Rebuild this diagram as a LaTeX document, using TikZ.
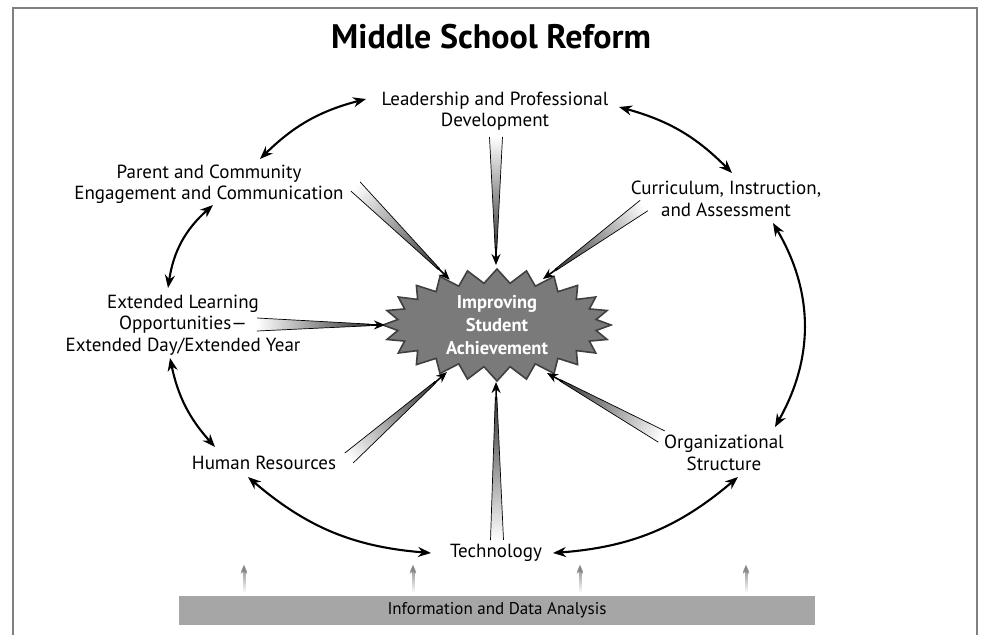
\documentclass[tikz,border=0pt]{standalone}
\usepackage{fontspec}
\setmainfont{PT Sans}
\usetikzlibrary{shapes, arrows.meta, positioning, calc, fadings}

% wedge arrow: wide end #1, tip #2
\newcommand\taper[2]{%
  \path let \p1=(#1), \p2=(#2) in
    \pgfextra{\pgfmathsetmacro\tang{atan2(\y2-\y1,\x2-\x1)}%
      \pgfmathsetmacro\tlen{veclen(\x2-\x1,\y2-\y1)}%
      \xdef\taperang{\tang}\xdef\taperlen{\tlen}};
  \begin{scope}[transform canvas={shift={(#1)}, rotate=\taperang}]
    \shade[left color=white, right color=black!80] (0,6.5) -- (\taperlen-15,0.8) -- (\taperlen-15,-0.8) -- (0,-6.5) -- cycle;
    \draw[line width=0.7pt] (0,6.5) -- (\taperlen-15,0.8) (0,-6.5) -- (\taperlen-15,-0.8);
    \draw[line width=1.6pt, -{Stealth[length=11pt,width=9pt]}] (\taperlen-18,0) -- (\taperlen,0);
  \end{scope}}

\begin{document}
\begin{tikzpicture}[x=1pt, y=1pt,
        lbl/.style={align=center, inner sep=0pt, font=\fontsize{19}{21.5}\selectfont},
        burst/.style={starburst, starburst points=24, starburst point height=14pt, random starburst=0, draw=black!75, fill=black!52, line width=1.6pt, minimum width=228pt, minimum height=112pt, inner sep=0pt, align=center, text=white, font=\bfseries\fontsize{18.5}{23}\selectfont},
        link/.style={{Stealth[length=13pt,width=10pt]}-{Stealth[length=13pt,width=10pt]}, line width=2.1pt},
        feed/.style={-{Stealth[length=10pt,width=9pt]}, line width=3pt, black!50, path fading=south}
    ]
        \useasboundingbox (0,0) rectangle (982,-635);
        \draw[black!50, line width=2pt] (13,-635) -- (13,-8) -- (977,-8) -- (977,-635);

        % Title
        \node[font=\bfseries\fontsize{34}{40}\selectfont] (title) at (491,-37) {Middle School Reform};

        % Centre
        \node[burst] (star) at (497,-325) {Improving\\Student\\Achievement};

        % Ring
        \node[lbl] (lead) at (495,-111) {Leadership and Professional\\Development};
        \node[lbl] (curric) at (726,-199) {Curriculum, Instruction,\\and Assessment};
        \node[lbl] (org) at (724,-453) {Organizational\\Structure};
        \node[lbl] (tech) at (496,-553) {Technology};
        \node[lbl] (human) at (264,-463) {Human Resources};
        \node[lbl] (extend) at (183,-325) {Extended Learning\\Opportunities---\\Extended Day/Extended Year};
        \node[lbl] (parent) at (209,-184) {Parent and Community\\Engagement and Communication};

        % Base
        \node[fill=black!35, minimum width=636pt, minimum height=29pt, inner sep=0pt, font=\fontsize{17}{19}\selectfont] (info) at (497,-610.5) {Information and Data Analysis};

        % Ring connections
        \draw[link] ([shift={(-129,12)}]lead.center) to[bend right=15] ([shift={(51,25)}]parent.center);
        \draw[link] ([shift={(124,4)}]lead.center) to[bend left=15] ([shift={(6,26)}]curric.center);
        \draw[link] ([shift={(4,-21)}]parent.center) to[bend right=20] ([shift={(-15,37)}]extend.center);
        \draw[link] ([shift={(-13,-33)}]extend.center) to[bend right=15] ([shift={(-49,16)}]human.center);
        \draw[link] ([shift={(-16,-14)}]human.center) to[bend right=18] ([shift={(-65,0)}]tech.center);
        \draw[link] ([shift={(57,0)}]tech.center) to[bend right=18] ([shift={(14,-24)}]org.center);
        \draw[link] ([shift={(47,-24)}]curric.center) to[bend left=30] ([shift={(51,26)}]org.center);

        % Into the centre
        \taper{[shift={(1,-26)}]lead.center}{[shift={(-1,60)}]star.center}
        \taper{[shift={(146.5,-2.5)}]parent.center}{[shift={(-47,45)}]star.center}
        \taper{[shift={(-82,-6.5)}]curric.center}{[shift={(46,46)}]star.center}
        \taper{[shift={(74,0.5)}]extend.center}{[shift={(-112,0)}]star.center}
        \taper{[shift={(85,5)}]human.center}{[shift={(-50,-47)}]star.center}
        \taper{[shift={(1,13)}]tech.center}{[shift={(-1,-57)}]star.center}
        \taper{[shift={(-62.5,16.5)}]org.center}{[shift={(50,-48)}]star.center}

        % Data feeds
        \foreach \dx in {-253,-84,83,249}
            \draw[feed] ([shift={(\dx,4)}]info.north) -- ++(0,27);

    \end{tikzpicture}
\end{document}
